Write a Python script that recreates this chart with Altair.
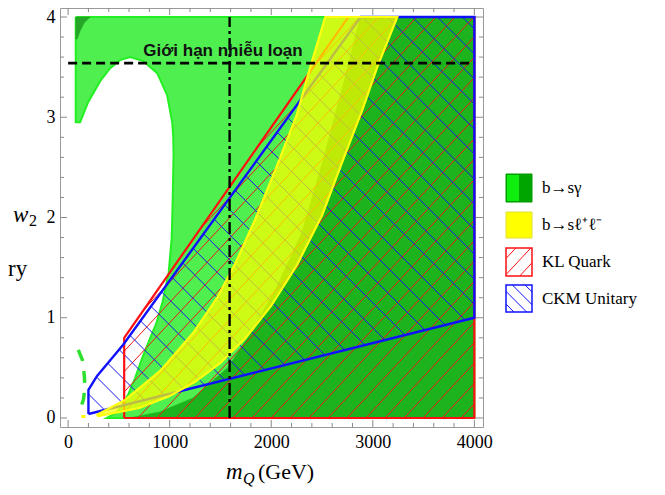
import altair as alt
import numpy as np
import pandas as pd

# ---------------- data ----------------
# b -> s gamma : light-green allowed region (boundary)
SG_LIGHT_X = [75, 75, 118, 197, 315, 414, 511, 611, 739, 877, 975, 1025, 1035, 1038,
              1030, 1020, 990, 930, 870, 800, 730, 660, 594, 530, 470, 381, 4000, 4000, 75]
SG_LIGHT_Y = [4.0, 2.95, 2.95, 3.15, 3.36, 3.49, 3.57, 3.6, 3.56, 3.44, 3.22, 2.95, 2.8, 2.63,
              2.2, 1.8, 1.45, 1.16, 0.95, 0.78, 0.6, 0.4, 0.24, 0.12, 0.05, 0.0, 0.0, 4.0, 4.0]
# b -> s gamma : dark-green region
SG_DARK_X = [600, 900, 1230, 1570, 1800, 2050, 2300, 2512, 2700, 2877, 4000, 4000, 600]
SG_DARK_Y = [0.0, 0.06, 0.2, 0.5, 0.85, 1.3, 1.85, 2.58, 3.3, 4.0, 4.0, 0.0, 0.0]
# small dark-green patch in the upper-left corner
SG_PATCH_X = [75, 217, 158, 118, 89, 75, 75]
SG_PATCH_Y = [4.0, 4.0, 3.94, 3.86, 3.78, 3.78, 4.0]
# dashed green sliver near the origin
SG_SLIVER_X = [100, 140, 160, 165, 150, 110]
SG_SLIVER_Y = [0.68, 0.58, 0.42, 0.3, 0.18, 0.06]
# b -> s l+ l- band
LL_LEFT_X = [280, 561, 906, 1232, 1468, 1650, 1850, 2050, 2250, 2384, 2532]
LL_LEFT_Y = [0.03, 0.18, 0.47, 0.85, 1.2, 1.55, 2.0, 2.5, 3.02, 3.5, 4.0]
LL_RIGHT_X = [300, 700, 1000, 1250, 1500, 1750, 2000, 2250, 2500, 2709, 2900, 3044, 3241]
LL_RIGHT_Y = [0.02, 0.1, 0.22, 0.36, 0.55, 0.8, 1.12, 1.52, 2.02, 2.58, 3.08, 3.5, 4.0]
LL_DOT_X = [130, 170]
LL_DOT_Y = [0.015, 0.015]
# KL quark region
KL_X = [552, 4000, 4000, 2759, 552]
KL_Y = [0.0, 0.0, 4.0, 4.0, 0.8]
# CKM unitarity region
CKM_X = [200, 4000, 4000, 2880, 542, 285, 200]
CKM_Y = [0.04, 1.0, 4.0, 4.0, 0.73, 0.42, 0.28]
# reference lines
PERT_W2 = 3.54
PERT_LABEL = "Giới hạn nhiễu loạn"
PERT_LABEL_X = 740
PERT_LABEL_Y = 3.61
MQ_LINE = 1590
# ticks
X_TICKS = [0, 1000, 2000, 3000, 4000]
X_MINOR = [v for v in range(0, 4001, 200) if v % 1000]
Y_TICKS = [0, 1, 2, 3, 4]
Y_MINOR = [round(0.2 * i, 1) for i in range(21) if i % 5]
LEGEND_LABELS = ["b→sγ", "b→sℓ⁺ℓ⁻", "KL Quark", "CKM Unitary"]

# ---------------- layout / style ----------------
W, H = 423, 419
XMIN, XMAX = -80, 4085
YMIN, YMAX = -0.0898, 4.0898
SX = W / (XMAX - XMIN)
SY = H / (YMAX - YMIN)
SERIF = "Liberation Serif"
SANS = "Liberation Sans"

xs = alt.Scale(domain=[XMIN, XMAX], nice=False, zero=False)
ys = alt.Scale(domain=[YMIN, YMAX], nice=False, zero=False)
xax = alt.Axis(values=X_TICKS, title=None, grid=False, ticks=False, domain=False,
               labelFont=SERIF, labelFontSize=18, labelPadding=6, labelColor="black", format="d")
yax = alt.Axis(values=Y_TICKS, title=None, grid=False, ticks=False, domain=False,
               labelFont=SERIF, labelFontSize=18, labelPadding=5, labelColor="black", format="d")


def X(f="x"):
    return alt.X(f"{f}:Q", scale=xs, axis=xax)


def Y(f="y"):
    return alt.Y(f"{f}:Q", scale=ys, axis=yax)


def poly_df(px, py):
    return pd.DataFrame({"x": px, "y": py, "i": range(len(px))})


def polygon(px, py, **kw):
    return alt.Chart(poly_df(px, py)).mark_line(interpolate="linear", **kw).encode(
        x=X(), y=Y(), order=alt.Order("i:Q"))


def to_px(x, y):
    return ((x - XMIN) * SX, (YMAX - y) * SY)


def from_px(p):
    return (p[0] / SX + XMIN, YMAX - p[1] / SY)


def clip_hatch(pts, angle_deg, spacing, phase=0.0):
    P = np.asarray(pts, float)
    th = np.radians(angle_deg)
    d = np.array([np.cos(th), -np.sin(th)])
    n = np.array([np.sin(th), np.cos(th)])
    proj = P @ n
    segs = []
    k0 = int(np.floor((proj.min() - phase) / spacing))
    k1 = int(np.ceil((proj.max() - phase) / spacing))
    m = len(P)
    for k in range(k0, k1 + 1):
        c = phase + k * spacing
        ts = []
        for i in range(m):
            a, b = P[i], P[(i + 1) % m]
            fa, fb = a @ n - c, b @ n - c
            if (fa < 0) != (fb < 0):
                q = a + (b - a) * fa / (fa - fb)
                ts.append(q @ d)
        ts.sort()
        for j in range(0, len(ts) - 1, 2):
            segs.append((c * n + ts[j] * d, c * n + ts[j + 1] * d))
    return segs


def hatch_df(px, py, angle, spacing, phase):
    pts = [to_px(a, b) for a, b in zip(px, py)]
    rows = []
    for p1, p2 in clip_hatch(pts, angle, spacing, phase):
        x1, y1 = from_px(p1)
        x2, y2 = from_px(p2)
        rows.append({"x": x1, "y": y1, "x2": x2, "y2": y2})
    return pd.DataFrame(rows)


def hatch_layer(px, py, angle, spacing, phase, color):
    return alt.Chart(hatch_df(px, py, angle, spacing, phase)).mark_rule(
        color=color, strokeWidth=1).encode(x=X(), y=Y(), x2="x2:Q", y2="y2:Q")


layers = []
# green regions
layers.append(polygon(SG_LIGHT_X, SG_LIGHT_Y, fill="#50EF50", stroke="#22F022", strokeWidth=2))
layers.append(polygon(SG_DARK_X, SG_DARK_Y, fill="#1CB31C", stroke="#1CB31C", strokeWidth=0.5))
layers.append(polygon(SG_PATCH_X, SG_PATCH_Y, fill="#26A626", stroke="#26A626", strokeWidth=0.5))
# hatching
layers.append(hatch_layer(KL_X, KL_Y, 47, 13.9, 3.0, "#F01818"))
layers.append(hatch_layer(CKM_X, CKM_Y, -45, 17.7, 5.0, "#1818E8"))
# outlines
layers.append(polygon(KL_X + KL_X[:1], KL_Y + KL_Y[:1], stroke="#FF1010", strokeWidth=2.2))
layers.append(polygon(CKM_X + CKM_X[:1], CKM_Y + CKM_Y[:1], stroke="#1010FF", strokeWidth=2.4))
# dashed green sliver
layers.append(alt.Chart(poly_df(SG_SLIVER_X, SG_SLIVER_Y)).mark_line(
    color="#2EE02E", strokeWidth=3.5, strokeDash=[12, 10]).encode(x=X(), y=Y(), order="i:Q"))
# yellow band
LL_X = LL_LEFT_X + LL_RIGHT_X[::-1] + LL_LEFT_X[:1]
LL_Y = LL_LEFT_Y + LL_RIGHT_Y[::-1] + LL_LEFT_Y[:1]
layers.append(polygon(LL_X, LL_Y, fill="#FFFF00", fillOpacity=0.72, stroke="#FFFF10", strokeWidth=2.2))
layers.append(alt.Chart(poly_df(LL_DOT_X, LL_DOT_Y)).mark_line(
    color="#FFFF00", strokeWidth=3).encode(x=X(), y=Y(), order="i:Q"))
# perturbativity limit + m_Q line
layers.append(alt.Chart(pd.DataFrame({"x": [0], "x2": [4000], "y": [PERT_W2]})).mark_rule(
    color="black", strokeWidth=2.6, strokeDash=[9, 5]).encode(x=X(), x2="x2:Q", y=Y()))
layers.append(alt.Chart(pd.DataFrame({"x": [MQ_LINE], "y": [0], "y2": [4]})).mark_rule(
    color="black", strokeWidth=2.4, strokeDash=[12, 4, 3, 4]).encode(x=X(), y=Y(), y2="y2:Q"))
layers.append(alt.Chart(pd.DataFrame({"x": [PERT_LABEL_X], "y": [PERT_LABEL_Y], "t": [PERT_LABEL]})).mark_text(
    font=SANS, fontSize=17, fontWeight="bold", align="left", baseline="alphabetic", color="#111111").encode(
    x=X(), y=Y(), text="t:N"))

# inward frame ticks
TICK_C = "#8A8A8A"
for vals, ln in ((X_TICKS, 7), (X_MINOR, 4)):
    d = pd.DataFrame({"x": vals})
    layers.append(alt.Chart(d).mark_rule(color=TICK_C, strokeWidth=1).encode(
        x=X(), y=alt.value(H), y2=alt.value(H - ln)))
    layers.append(alt.Chart(d).mark_rule(color=TICK_C, strokeWidth=1).encode(
        x=X(), y=alt.value(0), y2=alt.value(ln)))
for vals, ln in ((Y_TICKS, 7), (Y_MINOR, 4)):
    d = pd.DataFrame({"y": vals})
    layers.append(alt.Chart(d).mark_rule(color=TICK_C, strokeWidth=1).encode(
        y=Y(), x=alt.value(0), x2=alt.value(ln)))
    layers.append(alt.Chart(d).mark_rule(color=TICK_C, strokeWidth=1).encode(
        y=Y(), x=alt.value(W), x2=alt.value(W - ln)))

one = pd.DataFrame({"a": [0]})


def label(text, x, y, size, style="normal", align="left", font=SERIF, baseline="alphabetic"):
    return alt.Chart(one).mark_text(text=text, font=font, fontSize=size, fontStyle=style,
                                    align=align, baseline=baseline, color="black").encode(
        x=alt.value(x), y=alt.value(y))


# axis titles (pixel layout)
layers.append(label("m", 166, 471, 23, "italic"))
layers.append(label("Q", 183, 476, 16, "italic"))
layers.append(label("(GeV)", 198, 471, 22))
layers.append(label("w", -47, 214, 23, "italic"))
layers.append(label("2", -31, 218, 16))
layers.append(label("ry", -52, 268, 23))

# legend (pixel layout)
LX0, LX1 = 446, 472
rows_y = [(166, 194), (204, 230), (240, 268), (277, 304)]


def rect(x0, x1, y0, y1, fill, stroke, sw=1):
    return alt.Chart(one).mark_rect(fill=fill, stroke=stroke, strokeWidth=sw).encode(
        x=alt.value(x0), x2=alt.value(x1), y=alt.value(y0), y2=alt.value(y1))


g0, g1 = rows_y[0]
layers.append(rect(LX0, LX1, g0, g1, "#00A500", "#009A00"))
layers.append(rect(LX0 + 1, (LX0 + LX1) / 2, g0 + 1, g1 - 1, "#10EE10", "#10EE10", 0))
y0, y1 = rows_y[1]
layers.append(rect(LX0, LX1, y0, y1, "#FFFF00", "#E0E030"))
for k, (ang, sp, col) in ((2, (47, 11.0, "#FF1010")), (3, (-45, 9.0, "#1010FF"))):
    a0, a1 = rows_y[k]
    layers.append(rect(LX0, LX1, a0, a1, "white", col, 1.5))
    for p1, p2 in clip_hatch([(LX0, a0), (LX1, a0), (LX1, a1), (LX0, a1)], ang, sp, 2.0):
        layers.append(alt.Chart(one).mark_rule(color=col, strokeWidth=1).encode(
            x=alt.value(float(p1[0])), y=alt.value(float(p1[1])),
            x2=alt.value(float(p2[0])), y2=alt.value(float(p2[1]))))
for k, txt in enumerate(LEGEND_LABELS):
    a0, a1 = rows_y[k]
    layers.append(label(txt, 482, (a0 + a1) / 2, 17, baseline="middle"))

chart = alt.layer(*layers).properties(
    width=W, height=H,
    autosize=alt.AutoSizeParams(type="none"),
    padding={"left": 52, "top": 0, "right": 174, "bottom": 60},
).configure_view(stroke="#9A9A9A", strokeWidth=1)

chart.save("out.html", embed_options={"renderer": "svg", "actions": False})
